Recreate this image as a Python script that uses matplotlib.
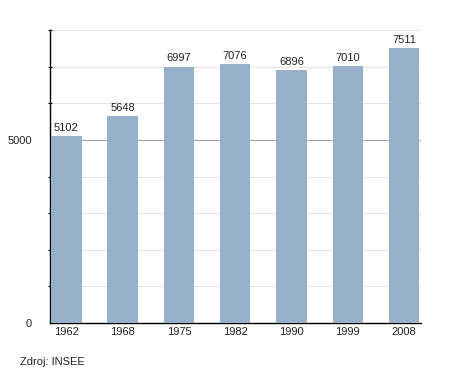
import matplotlib.pyplot as plt

plt.rcParams['font.family'] = ['Liberation Sans', 'DejaVu Sans']

# Population data (INSEE census years)
years = ['1962', '1968', '1975', '1982', '1990', '1999', '2008']
population = [5102, 5648, 6997, 7076, 6896, 7010, 7511]

fig = plt.figure(figsize=(4.5, 3.73), dpi=100)
ax = fig.add_axes([50 / 450, 50 / 373, 371 / 450, 293 / 373])

x = range(len(years))
bars = ax.bar(x, population, width=0.54, color='#97b0c9', zorder=3)

for xi, v in zip(x, population):
    ax.text(xi, v + 90, str(v), ha='center', va='bottom', fontsize=8, color='#222222')

# light grid every 1000, darker line at 5000
for g in range(1000, 8001, 1000):
    if g == 5000:
        ax.axhline(g, color='#a6a6a6', linewidth=0.8, zorder=1)
    else:
        ax.axhline(g, color='#e4e4e4', linewidth=0.8, zorder=1)

ax.set_xlim(-0.29, 6.3)
ax.set_ylim(0, 8000)
ax.set_xticks(list(x))
ax.set_xticklabels(years, fontsize=8, color='#222222')
ax.set_yticks([0, 5000])
ax.set_yticks(range(1000, 8001, 1000), minor=True)
ax.set_yticklabels(['0', '5000'], fontsize=8, color='#222222')
ax.tick_params(axis='x', length=0, pad=3)
ax.tick_params(axis='y', which='major', length=0, pad=13)
ax.tick_params(axis='y', which='minor', direction='inout', length=3, width=0.8)

for s in ('top', 'right'):
    ax.spines[s].set_visible(False)
ax.spines['left'].set_linewidth(1.0)
ax.spines['bottom'].set_linewidth(1.0)

fig.text(20 / 450, 1 - 362 / 373, 'Zdroj: INSEE', fontsize=8, va='center', color='#222222')

fig.savefig('out.png', dpi=100)
